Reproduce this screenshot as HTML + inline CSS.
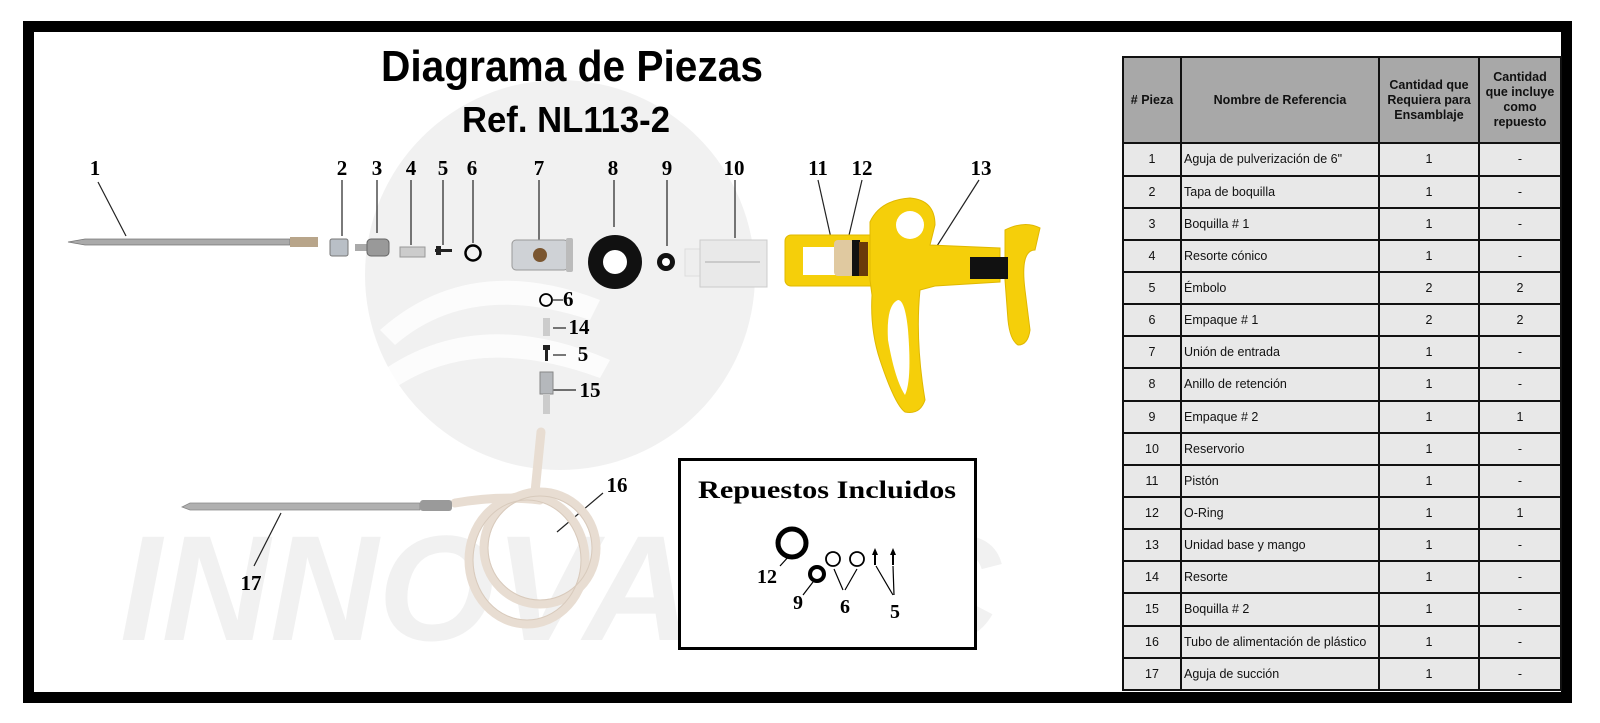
<!DOCTYPE html>
<html><head><meta charset="utf-8"><style>
html,body{margin:0;padding:0;background:#fff;}
#wrap{position:relative;width:1600px;height:723px;overflow:hidden;background:#fff;}
svg{position:absolute;left:0;top:0;}
table{position:absolute;left:1122px;top:56px;width:438px;height:635px;border-collapse:collapse;font-family:"Liberation Sans",Arial,sans-serif;font-size:12.5px;color:#111;table-layout:fixed;}
td,th{border:2px solid #111;padding:0;}
th{background:#a8a8a8;font-weight:bold;font-size:12.5px;line-height:15px;height:84px;}
td{background:#e8e8e8;height:30px;text-align:center;}
td.n{text-align:left;padding-left:2px;}
</style></head><body><div id="wrap">
<svg width="1600" height="723" viewBox="0 0 1600 723">
<circle cx="560" cy="275" r="195" fill="#f1f1f1"/>
<path d="M380 330 Q470 250 600 300 L590 320 Q470 280 395 345Z" fill="#fff" opacity="0.8"/>
<path d="M370 380 Q470 300 610 360 L600 378 Q470 330 385 395Z" fill="#fff" opacity="0.8"/>
<text x="120" y="640" font-family="Liberation Sans,sans-serif" font-weight="bold" font-style="italic" font-size="150" fill="#f1f1f1" textLength="880" lengthAdjust="spacingAndGlyphs">INNOVAPEC</text>
<rect x="28.5" y="26.5" width="1538" height="671" fill="none" stroke="#000" stroke-width="11"/>
<text x="572" y="81" text-anchor="middle" font-family="Liberation Sans Narrow,Liberation Sans,sans-serif" font-weight="bold" font-size="44" textLength="382" lengthAdjust="spacingAndGlyphs">Diagrama de Piezas</text>
<text x="566" y="132" text-anchor="middle" font-family="Liberation Sans Narrow,Liberation Sans,sans-serif" font-weight="bold" font-size="36" textLength="208" lengthAdjust="spacingAndGlyphs">Ref. NL113-2</text>
<g font-family="Liberation Serif,serif" font-weight="bold" font-size="21" text-anchor="middle">
<text x="95" y="175">1</text><text x="342" y="175">2</text><text x="377" y="175">3</text><text x="411" y="175">4</text><text x="443" y="175">5</text><text x="472" y="175">6</text><text x="539" y="175">7</text><text x="613" y="175">8</text><text x="667" y="175">9</text><text x="734" y="175">10</text><text x="818" y="175">11</text><text x="862" y="175">12</text><text x="981" y="175">13</text>
<text x="563" y="306" text-anchor="start">6</text><text x="579" y="334">14</text><text x="583" y="361">5</text><text x="590" y="397">15</text>
<text x="617" y="492">16</text><text x="251" y="590">17</text>
</g>
<g stroke="#222" stroke-width="1.2">
<line x1="98" y1="182" x2="126" y2="236"/><line x1="342" y1="180" x2="342" y2="236"/><line x1="377" y1="180" x2="377" y2="233"/><line x1="411" y1="180" x2="411" y2="245"/><line x1="443" y1="180" x2="443" y2="245"/><line x1="473" y1="180" x2="473" y2="243"/><line x1="539" y1="180" x2="539" y2="240"/><line x1="614" y1="180" x2="614" y2="227"/><line x1="667" y1="180" x2="667" y2="246"/><line x1="735" y1="180" x2="735" y2="238"/>
<line x1="818" y1="180" x2="835" y2="256"/><line x1="862" y1="180" x2="846" y2="248"/><line x1="979" y1="180" x2="930" y2="257"/>
<line x1="553" y1="300" x2="563" y2="300"/><line x1="553" y1="328" x2="566" y2="328"/><line x1="553" y1="355" x2="566" y2="355"/><line x1="553" y1="390" x2="576" y2="390"/>
<line x1="603" y1="493" x2="557" y2="532"/><line x1="254" y1="566" x2="281" y2="513"/>
</g>
<polygon points="68,242 85,239 290,239 290,245 85,245" fill="#aaa" stroke="#777" stroke-width="0.8"/>
<rect x="290" y="237" width="28" height="10" fill="#b8a58a"/>
<rect x="330" y="239" width="18" height="17" rx="2" fill="#b9bfc6" stroke="#777"/>
<rect x="355" y="244" width="14" height="7" fill="#aaa"/><rect x="367" y="239" width="22" height="17" rx="4" fill="#999" stroke="#666"/>
<rect x="400" y="247" width="25" height="10" fill="#ccc" stroke="#999"/>
<rect x="435" y="249" width="17" height="3" fill="#222"/><rect x="436" y="246" width="5" height="9" fill="#222"/>
<circle cx="473" cy="253" r="7.5" fill="none" stroke="#000" stroke-width="2.5"/>
<rect x="512" y="240" width="56" height="30" rx="4" fill="#cfd2d6" stroke="#999"/><rect x="566" y="238" width="7" height="34" rx="2" fill="#bbb"/><circle cx="540" cy="255" r="7" fill="#7a5630"/>
<circle cx="615" cy="262" r="27" fill="#111"/><circle cx="615" cy="262" r="12" fill="#fff"/>
<circle cx="666" cy="262" r="9" fill="#111"/><circle cx="666" cy="262" r="4" fill="#fff"/>
<rect x="685" y="249" width="16" height="27" fill="#eee" stroke="#ddd"/><rect x="700" y="240" width="67" height="47" fill="#e9e9e9" stroke="#ccc"/>
<g stroke="#aaa"><line x1="705" y1="262" x2="760" y2="262"/></g>
<circle cx="546" cy="300" r="6" fill="none" stroke="#000" stroke-width="1.8"/>
<rect x="543" y="318" width="7" height="18" fill="#ccc"/>
<rect x="545" y="347" width="3" height="14" fill="#222"/><rect x="543" y="345" width="7" height="5" fill="#222"/>
<rect x="540" y="372" width="13" height="22" fill="#b5b8bc" stroke="#888"/><rect x="543" y="394" width="7" height="20" fill="#ccc"/>
<g fill="none" stroke="#e8ddd2" stroke-width="9" stroke-linecap="round">
<path d="M541 432 L535 492"/>
<ellipse cx="527" cy="560" rx="58" ry="64"/>
<ellipse cx="540" cy="548" rx="56" ry="56"/>
<path d="M455 503 Q500 495 540 500"/>
</g>
<g fill="none" stroke="#d8cabc" stroke-width="1"><ellipse cx="527" cy="560" rx="54" ry="60"/><ellipse cx="540" cy="548" rx="52" ry="52"/></g>
<polygon points="182,507 190,503 420,503 420,510 190,510" fill="#b0b0b0" stroke="#888" stroke-width="0.8"/>
<rect x="420" y="500" width="32" height="11" rx="3" fill="#9a9a9a"/>
<g fill="#f5cf0a" stroke="#e0b800" stroke-width="1">
<rect x="785" y="235" width="115" height="51" rx="6"/>
<path d="M870 222 Q880 200 910 198 Q935 200 935 225 L930 245 L1000 248 L1000 282 L935 286 L920 290 Q915 340 925 400 Q920 415 905 412 Q895 405 880 360 Q870 330 872 295 L870 280Z"/>
<path d="M1005 230 Q1025 220 1040 228 L1035 250 Q1020 250 1025 290 L1030 330 Q1028 345 1018 345 Q1010 340 1008 320 L1005 280Z"/>
</g>
<circle cx="910" cy="225" r="14" fill="#fff"/>
<rect x="803" y="247" width="40" height="28" fill="#fff"/>
<path d="M898 300 Q905 300 908 330 Q912 380 905 395 Q895 380 888 340 Q886 305 898 300Z" fill="#fff"/>
<rect x="834" y="240" width="20" height="36" rx="4" fill="#e0c9a0"/><rect x="852" y="240" width="8" height="36" fill="#111"/><rect x="859" y="242" width="9" height="34" fill="#6a3a0a"/>
<rect x="970" y="257" width="38" height="22" fill="#111"/>
<rect x="679.5" y="459.5" width="296" height="189" fill="#fff" stroke="#000" stroke-width="3"/>
<text x="827" y="498" text-anchor="middle" font-family="Liberation Serif,serif" font-weight="bold" font-size="25" textLength="258" lengthAdjust="spacingAndGlyphs">Repuestos Incluidos</text>
<circle cx="792" cy="543" r="14" fill="none" stroke="#000" stroke-width="5"/>
<circle cx="817" cy="574" r="7" fill="none" stroke="#000" stroke-width="4"/>
<circle cx="833" cy="559" r="7" fill="none" stroke="#000" stroke-width="1.8"/>
<circle cx="857" cy="559" r="7" fill="none" stroke="#000" stroke-width="1.8"/>
<rect x="874" y="553" width="2" height="12" fill="#000"/><polygon points="872,555 875,548 878,555" fill="#000"/>
<rect x="892" y="553" width="2" height="12" fill="#000"/><polygon points="890,555 893,548 896,555" fill="#000"/>
<g stroke="#000" stroke-width="1.2"><line x1="780" y1="566" x2="790" y2="555"/><line x1="803" y1="595" x2="813" y2="582"/><line x1="834" y1="569" x2="843" y2="590"/><line x1="857" y1="569" x2="845" y2="590"/><line x1="876" y1="566" x2="893" y2="595"/><line x1="893" y1="566" x2="894" y2="595"/></g>
<g font-family="Liberation Serif,serif" font-weight="bold" font-size="20" text-anchor="middle"><text x="767" y="583">12</text><text x="798" y="609">9</text><text x="845" y="613">6</text><text x="895" y="618">5</text></g>
</svg>
<table>
<colgroup><col style="width:58px"><col style="width:198px"><col style="width:100px"><col style="width:82px"></colgroup>
<tr><th># Pieza</th><th>Nombre de Referencia</th><th>Cantidad que<br>Requiera para<br>Ensamblaje</th><th>Cantidad<br>que incluye<br>como<br>repuesto</th></tr>
<tr><td>1</td><td class="n">Aguja de pulverización de 6"</td><td>1</td><td>-</td></tr>
<tr><td>2</td><td class="n">Tapa de boquilla</td><td>1</td><td>-</td></tr>
<tr><td>3</td><td class="n">Boquilla # 1</td><td>1</td><td>-</td></tr>
<tr><td>4</td><td class="n">Resorte cónico</td><td>1</td><td>-</td></tr>
<tr><td>5</td><td class="n">Émbolo</td><td>2</td><td>2</td></tr>
<tr><td>6</td><td class="n">Empaque # 1</td><td>2</td><td>2</td></tr>
<tr><td>7</td><td class="n">Unión de entrada</td><td>1</td><td>-</td></tr>
<tr><td>8</td><td class="n">Anillo de retención</td><td>1</td><td>-</td></tr>
<tr><td>9</td><td class="n">Empaque # 2</td><td>1</td><td>1</td></tr>
<tr><td>10</td><td class="n">Reservorio</td><td>1</td><td>-</td></tr>
<tr><td>11</td><td class="n">Pistón</td><td>1</td><td>-</td></tr>
<tr><td>12</td><td class="n">O-Ring</td><td>1</td><td>1</td></tr>
<tr><td>13</td><td class="n">Unidad base y mango</td><td>1</td><td>-</td></tr>
<tr><td>14</td><td class="n">Resorte</td><td>1</td><td>-</td></tr>
<tr><td>15</td><td class="n">Boquilla # 2</td><td>1</td><td>-</td></tr>
<tr><td>16</td><td class="n">Tubo de alimentación de plástico</td><td>1</td><td>-</td></tr>
<tr><td>17</td><td class="n">Aguja de succión</td><td>1</td><td>-</td></tr>
</table>
</div></body></html>
